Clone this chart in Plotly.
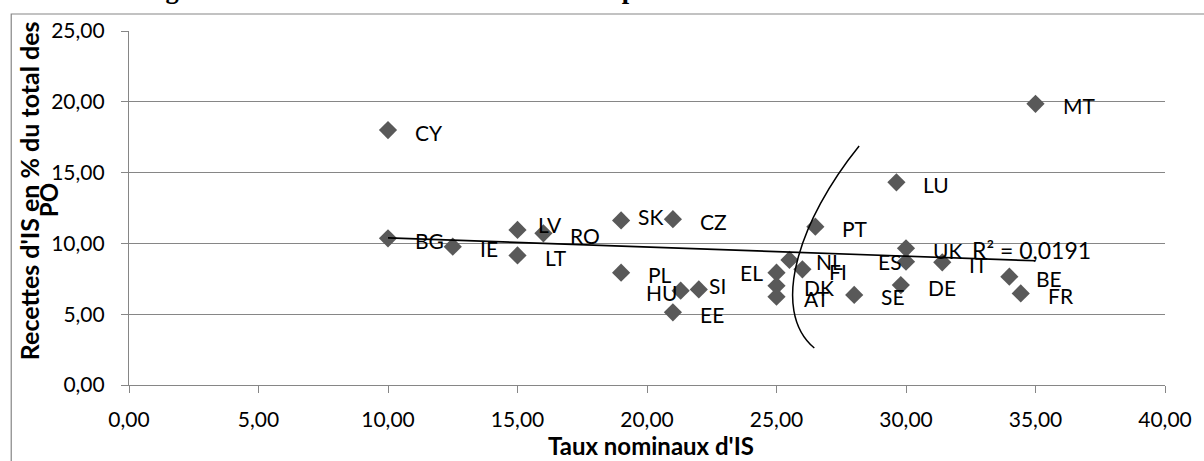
import numpy as np
import plotly.graph_objects as go

# ---- data ----
countries = ["CY", "BG", "IE", "LV", "RO", "LT", "SK", "CZ", "PL", "HU", "SI", "EE",
             "EL", "DK", "AT", "NL", "FI", "PT", "SE", "LU", "UK", "ES", "DE", "IT",
             "BE", "FR", "MT"]
tax_rate = [10.0, 10.0, 12.5, 15.0, 16.0, 15.0, 19.0, 21.0, 19.0, 21.3, 22.0, 21.0,
            25.0, 25.0, 25.0, 25.5, 26.0, 26.5, 28.0, 29.63, 30.0, 30.0, 29.8, 31.4,
            33.99, 34.43, 35.0]
cit_share = [18.0, 10.36, 9.77, 10.95, 10.71, 9.15, 11.62, 11.71, 7.93, 6.66, 6.75, 5.13,
             7.93, 7.01, 6.24, 8.83, 8.17, 11.18, 6.36, 14.31, 9.65, 8.71, 7.06, 8.66,
             7.65, 6.47, 19.86]

x_ticks = [0, 5, 10, 15, 20, 25, 30, 35, 40]
y_ticks = [0, 5, 10, 15, 20, 25]

title_text = "Figure 39: Taux nominaux d'IS et recettes prélevées en % du total des recettes en 2008"
x_title = "Taux nominaux d'IS"
y_title_line1 = "Recettes d'IS en % du total des"
y_title_line2 = "PO"
r2_text = "R² = 0,0191"

# hand-drawn arc (decoration) control points in data units
arc_pts = [(28.19, 16.88), (25.88, 11.65), (24.72, 5.30), (26.46, 2.61)]

# ---- label placement styles (pixel offsets) ----
label_style = {  # country: (xanchor, xshift, yshift)
    "LV": ("left", 18, 5), "SK": ("left", 15, 4), "SI": ("left", 8, 4),
    "HU": ("right", -2, -2), "EL": ("right", -12, 0), "ES": ("right", -2, 0),
}
default_style = ("left", 25, -2)

FONT = "Lato"
GREY = "rgb(134,134,134)"
MARK = "rgb(89,89,89)"

fig = go.Figure()
fig.add_trace(go.Scatter(
    x=tax_rate, y=cit_share, mode="markers",
    marker=dict(symbol="diamond", size=14, color=MARK, line=dict(width=0)),
    showlegend=False, hoverinfo="skip"))

# linear trendline computed from the data
slope, intercept = np.polyfit(tax_rate, cit_share, 1)
tx = [min(tax_rate), max(tax_rate)]
ty = [slope * v + intercept for v in tx]
fig.add_trace(go.Scatter(x=tx, y=ty, mode="lines",
                         line=dict(color="black", width=1.6),
                         showlegend=False, hoverinfo="skip"))

annotations = []
for c, xv, yv in zip(countries, tax_rate, cit_share):
    xa, xs, ys = label_style.get(c, default_style)
    annotations.append(dict(x=xv, y=yv, xref="x", yref="y", text=c, showarrow=False,
                            xanchor=xa, yanchor="middle", xshift=xs, yshift=ys,
                            font=dict(family=FONT, size=21, color="black")))

# R² label next to the end of the trend line
annotations.append(dict(x=tx[1], y=ty[1], xref="x", yref="y", text=r2_text, showarrow=False,
                        xanchor="left", yanchor="middle", xshift=-66, yshift=11,
                        font=dict(family=FONT, size=23, color="black")))

W, H = 1204, 461
L, R, T, B = 129, 37, 31, 76
pw, ph = W - L - R, H - T - B


def px(xp):
    return (xp - L) / pw


def py(yp):
    return (H - B - yp) / ph


annotations.append(dict(x=px(652), y=py(446), xref="paper", yref="paper",
                        text="<b>" + x_title + "</b>",
                        showarrow=False, xanchor="center", yanchor="middle",
                        font=dict(family=FONT, size=24, color="black")))
annotations.append(dict(x=px(29), y=py(191), xref="paper", yref="paper",
                        text="<b>" + y_title_line1 + "</b>",
                        showarrow=False, xanchor="center", yanchor="middle", textangle=-90,
                        font=dict(family=FONT, size=25, color="black")))
annotations.append(dict(x=px(48), y=py(200), xref="paper", yref="paper",
                        text="<b>" + y_title_line2 + "</b>",
                        showarrow=False, xanchor="center", yanchor="middle", textangle=-90,
                        font=dict(family=FONT, size=24, color="black")))
annotations.append(dict(x=px(630), y=py(6), xref="paper", yref="paper",
                        text="<b>" + title_text + "</b>",
                        showarrow=False, xanchor="center", yanchor="bottom",
                        font=dict(family="Liberation Serif", size=26.5, color="black")))

(a0, a1, a2, a3) = arc_pts
arc_path = f"M {a0[0]},{a0[1]} C {a1[0]},{a1[1]} {a2[0]},{a2[1]} {a3[0]},{a3[1]}"

shapes = [
    dict(type="path", path=arc_path, xref="x", yref="y",
         line=dict(color="black", width=1.5)),
    dict(type="rect", xref="paper", yref="paper", x0=px(11), y0=py(14), x1=px(1215), y1=py(480),
         line=dict(color=GREY, width=1.2), fillcolor="rgba(0,0,0,0)", layer="below"),
]

axis_common = dict(showline=True, linecolor=GREY, linewidth=1.2, ticks="outside",
                   tickcolor=GREY, ticklen=7, tickwidth=1.2, zeroline=False,
                   tickformat=".2f", tickfont=dict(family=FONT, size=21, color="black"))

fig.update_layout(
    width=W, height=H, margin=dict(l=L, r=R, t=T, b=B),
    paper_bgcolor="white", plot_bgcolor="white", separators=", ",
    xaxis=dict(range=[0, 40], tickvals=x_ticks, showgrid=False, ticklabelstandoff=9,
               **axis_common),
    yaxis=dict(range=[0, 25], tickvals=y_ticks, showgrid=True, gridcolor=GREY, gridwidth=1.2,
               ticklabelstandoff=12, **axis_common),
    annotations=annotations, shapes=shapes,
)

fig.write_html("out.html", config={"displayModeBar": False},
               post_script="document.body.style.margin='0';")
